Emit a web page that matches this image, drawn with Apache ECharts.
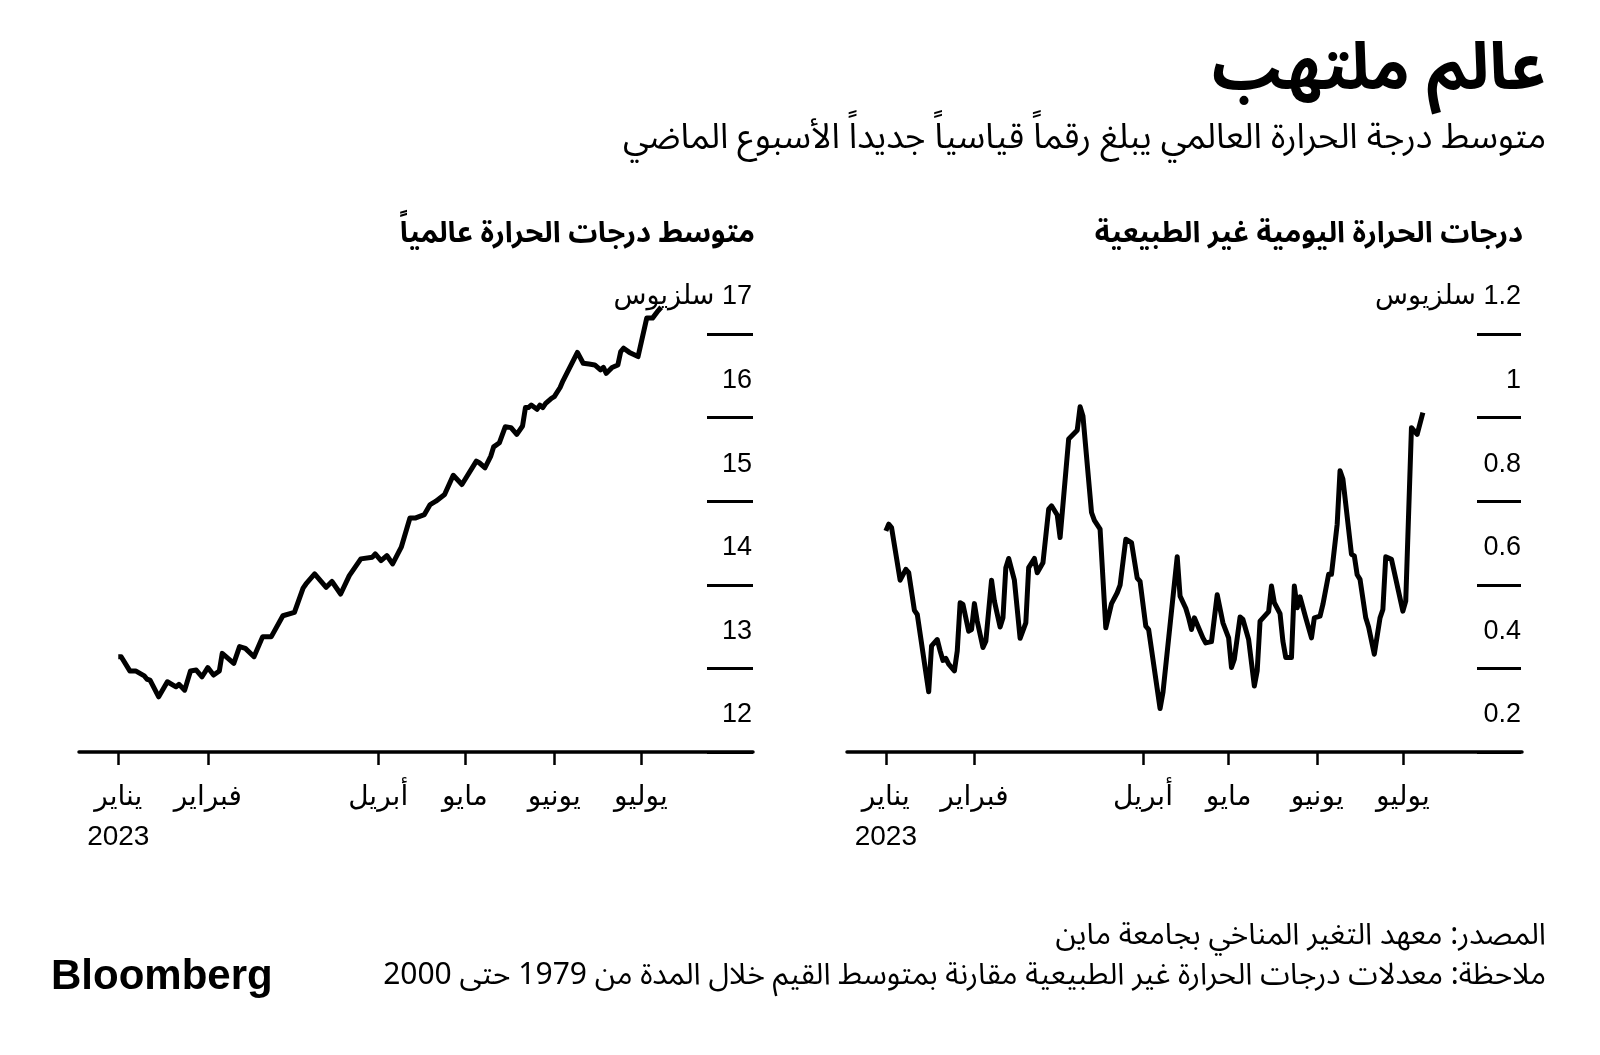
<!DOCTYPE html>
<html>
<head>
<meta charset="utf-8">
<script src="https://cdn.jsdelivr.net/npm/echarts@6/dist/echarts.min.js"></script>
<style>
    html, body {margin: 0; padding: 0; background: #fff;}
    #chart {width: 1600px; height: 1055px;}
</style>
</head>
<body>
<div id="chart"></div>
<script>
// days since 1 Jan 2023
const tempDays = [0, 1, 4, 6, 9, 10, 11, 14, 17, 20, 21, 23, 25, 27, 29, 31, 33, 35, 36, 40,
    42, 44, 47, 50, 53, 57, 61, 64, 65, 68, 72, 74, 77, 80, 84, 88, 89, 91, 93, 95,
    98, 101, 103, 106, 108, 110, 113, 116, 119, 124, 125, 127, 129, 130, 132, 134, 136, 138, 140, 141,
    142, 143, 145, 146, 147, 148, 150, 151, 153, 154, 159, 161, 163, 165, 167, 168, 169, 171, 173, 174,
    175, 177, 180, 183, 185, 187, 188];
const tempValues = [13.14, 13.14, 12.97, 12.97, 12.91, 12.87, 12.86, 12.66, 12.84, 12.78, 12.81, 12.74, 12.97, 12.98, 12.90, 13.01, 12.92, 12.97, 13.18, 13.06,
    13.26, 13.24, 13.14, 13.38, 13.38, 13.63, 13.67, 13.96, 14.01, 14.13, 13.97, 14.04, 13.89, 14.11, 14.31, 14.33, 14.37, 14.29, 14.35, 14.25,
    14.45, 14.80, 14.80, 14.84, 14.96, 15.00, 15.08, 15.31, 15.20, 15.48, 15.46, 15.40, 15.54, 15.65, 15.70, 15.89, 15.88, 15.80, 15.90, 16.12,
    16.12, 16.15, 16.10, 16.15, 16.12, 16.17, 16.23, 16.25, 16.36, 16.44, 16.78, 16.65, 16.64, 16.63, 16.57, 16.60, 16.53, 16.60, 16.63, 16.79,
    16.83, 16.78, 16.73, 17.19, 17.19, 17.28, 17.32];

const anomDays = [0, 1, 2, 5, 7, 8, 10, 11, 15, 16, 18, 19, 20, 21, 22, 24, 25, 26, 27, 29,
    30, 31, 32, 34, 35, 37, 38, 40, 41, 42, 43, 45, 47, 49, 50, 52, 53, 55, 57, 58,
    60, 61, 64, 67, 68, 69, 72, 73, 75, 77, 79, 81, 82, 84, 86, 88, 89, 91, 92, 96,
    97, 102, 103, 105, 106, 107, 108, 109, 111, 112, 114, 116, 118, 120, 121, 122, 124, 125, 127, 129,
    130, 131, 134, 135, 136, 138, 139, 140, 142, 143, 144, 145, 147, 149, 150, 152, 153, 155, 156, 158,
    159, 160, 163, 164, 165, 166, 168, 169, 171, 173, 174, 175, 177, 181, 182, 184, 186, 188];
const anomValues = [0.729, 0.745, 0.737, 0.611, 0.637, 0.629, 0.539, 0.529, 0.344, 0.454, 0.469, 0.442, 0.419, 0.424, 0.410, 0.394, 0.442, 0.557, 0.553, 0.489,
    0.493, 0.555, 0.513, 0.450, 0.465, 0.611, 0.561, 0.499, 0.521, 0.641, 0.663, 0.611, 0.472, 0.509, 0.641, 0.663, 0.629, 0.653, 0.781, 0.789,
    0.767, 0.713, 0.949, 0.970, 1.026, 1.004, 0.773, 0.754, 0.733, 0.497, 0.555, 0.581, 0.599, 0.709, 0.701, 0.616, 0.608, 0.501, 0.493, 0.304,
    0.342, 0.667, 0.573, 0.544, 0.521, 0.493, 0.521, 0.505, 0.473, 0.461, 0.464, 0.576, 0.509, 0.473, 0.402, 0.422, 0.523, 0.517, 0.469, 0.358,
    0.394, 0.513, 0.536, 0.597, 0.557, 0.531, 0.465, 0.426, 0.426, 0.597, 0.545, 0.571, 0.521, 0.473, 0.521, 0.525, 0.553, 0.625, 0.625, 0.745,
    0.873, 0.853, 0.673, 0.669, 0.624, 0.613, 0.521, 0.499, 0.434, 0.521, 0.541, 0.667, 0.661, 0.537, 0.561, 0.976, 0.960, 1.012];

const monthTicks = [0, 31, 90, 120, 151, 181];
const monthLabels = ['يناير', 'فبراير', 'أبريل', 'مايو', 'يونيو', 'يوليو'];
const yearLabel = '2023';
const unitLabel = 'سلزيوس';

const arabicFont = "'Noto Sans Arabic', 'DejaVu Sans', sans-serif";
const numFont = "'Liberation Sans', 'DejaVu Sans', sans-serif";

function pairs(xs, ys) {
    return xs.map((x, i) => [x, ys[i]]);
}

function xAxisFor(gridIndex, max) {
    return {
        type: 'value',
        gridIndex: gridIndex,
        min: -13.6,
        max: max,
        splitLine: {show: false},
        axisLine: {show: true, lineStyle: {color: '#000', width: 3.5}},
        axisTick: {
            show: true,
            customValues: monthTicks,
            length: 13,
            lineStyle: {color: '#000', width: 2.5}
        },
        axisLabel: {
            customValues: monthTicks,
            color: '#000',
            fontSize: 28,
            lineHeight: 40,
            fontFamily: numFont,
            margin: 25,
            formatter: v => {
                let i = monthTicks.indexOf(Math.round(v));
                if (i < 0) {
                    return '';
                }
                return i === 0 ? monthLabels[i] + '\n' + yearLabel : monthLabels[i];
            }
        }
    };
}

// scale of the plotted line, drawn without any decoration
function yScaleAxis(gridIndex, min, max, interval) {
    return {type: 'value', gridIndex: gridIndex, min: min, max: max, interval: interval, show: false};
}

// labels only; their grid is shifted up so each label sits above its tick line
function yLabelAxis(gridIndex, min, max, interval, top) {
    return {
        type: 'value',
        gridIndex: gridIndex,
        position: 'right',
        min: min,
        max: max,
        interval: interval,
        splitLine: {show: false},
        axisLine: {show: false},
        axisTick: {show: false},
        axisLabel: {
            inside: true,
            margin: 1,
            showMinLabel: true,
            showMaxLabel: true,
            color: '#000',
            fontSize: 27,
            fontFamily: numFont,
            formatter: v => {
                let s = String(Math.round(v * 10) / 10);
                // RLM keeps the number on the right of the unit
                return Math.abs(v - top) < 1e-6 ? '\u200F' + s + ' ' + unitLabel : s;
            }
        }
    };
}

// short tick lines at the right end of each panel (narrow grid)
function yTickAxis(gridIndex, min, max, interval) {
    return {
        type: 'value',
        gridIndex: gridIndex,
        min: min,
        max: max,
        interval: interval,
        axisLine: {show: false},
        axisTick: {show: false},
        axisLabel: {show: false},
        splitLine: {show: true, lineStyle: {color: '#000', width: 3}}
    };
}

function hiddenX(gridIndex) {
    return {type: 'value', gridIndex: gridIndex, min: 0, max: 1, show: false};
}

function text(str, x, y, font, align) {
    return {
        type: 'text',
        x: x,
        y: y,
        style: {
            text: str,
            font: font,
            fill: '#000',
            textAlign: align || 'right',
            textVerticalAlign: 'middle'
        }
    };
}

let chart = echarts.init(document.getElementById('chart'));

chart.setOption({
    animation: false,
    backgroundColor: '#fff',
    grid: [
        {left: 79, right: 847, top: 334, bottom: 303},
        {left: 847, right: 78, top: 334, bottom: 303},
        {left: 707, right: 847, top: 334, bottom: 303},
        {left: 1477, right: 79, top: 334, bottom: 303},
        {left: 553, right: 847, top: 297, bottom: 340},
        {left: 1322, right: 78, top: 297, bottom: 340}
    ],
    xAxis: [xAxisFor(0, 219.8), xAxisFor(1, 222.7), hiddenX(2), hiddenX(3), hiddenX(4), hiddenX(5)],
    yAxis: [
        yScaleAxis(0, 12, 17, 1),
        yScaleAxis(1, 0.2, 1.2, 0.2),
        yTickAxis(2, 12, 17, 1),
        yTickAxis(3, 0.2, 1.2, 0.2),
        yLabelAxis(4, 12, 17, 1, 17),
        yLabelAxis(5, 0.2, 1.2, 0.2, 1.2)
    ],
    series: [
        {
            type: 'line',
            xAxisIndex: 0,
            yAxisIndex: 0,
            data: pairs(tempDays, tempValues),
            symbol: 'none',
            clip: false,
            silent: true,
            z: 5,
            lineStyle: {color: '#000', width: 5, join: 'round'}
        },
        {
            type: 'line',
            xAxisIndex: 1,
            yAxisIndex: 1,
            data: pairs(anomDays, anomValues),
            symbol: 'none',
            clip: false,
            silent: true,
            z: 5,
            lineStyle: {color: '#000', width: 5, join: 'round'}
        }
    ],
    graphic: [
        text('عالم ملتهب', 1546, 79, 'bold 65px ' + arabicFont),
        text('متوسط درجة الحرارة العالمي يبلغ رقماً قياسياً جديداً الأسبوع الماضي', 1546, 143, '35px ' + arabicFont),
        text('متوسط درجات الحرارة عالمياً', 755, 238, 'bold 29px ' + arabicFont),
        text('درجات الحرارة اليومية غير الطبيعية', 1523, 238, 'bold 29px ' + arabicFont),
        text('المصدر: معهد التغير المناخي بجامعة ماين', 1546, 939, '30px ' + arabicFont),
        text('ملاحظة: معدلات درجات الحرارة غير الطبيعية مقارنة بمتوسط القيم خلال المدة من 1979 حتى 2000', 1546, 979, '30px ' + arabicFont),
        text('Bloomberg', 51, 977, 'bold 42px ' + numFont, 'left')
    ]
});
</script>
</body>
</html>
